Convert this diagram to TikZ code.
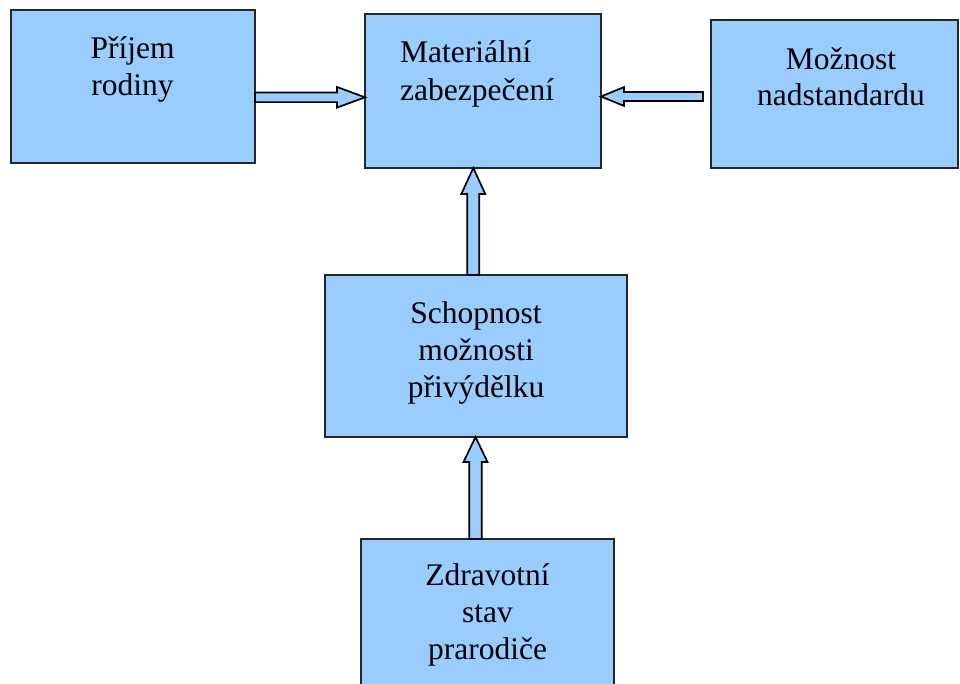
\documentclass[tikz,border=0pt]{standalone}
\usepackage{fontspec}
\setmainfont{Liberation Serif}
\newfontfamily\lblfont{Liberation Serif}
\usetikzlibrary{calc}
\definecolor{boxblue}{HTML}{99CCFF}
\definecolor{boxline}{HTML}{262626}
\tikzset{
  box/.style={draw=boxline, line width=1.2pt, fill=boxblue, rectangle, inner sep=0pt, outer sep=0pt},
  lbl/.style={inner sep=0pt, font=\lblfont\fontsize{31.5}{37}\selectfont, text=black},
  blockarr/.style={draw=black, line width=1.7pt, fill=boxblue, line join=miter},
}
\newcommand\blockarrow[5]{% start, tip, shaft half, head half, head length
  \coordinate (hb) at ($(#2)!#5!(#1)$);
  \draw[blockarr] ($(#1)!#3!90:(#2)$) -- ($(hb)!#3!90:(#2)$) -- ($(hb)!#4!90:(#2)$) -- (#2)
     -- ($(hb)!#4!-90:(#2)$) -- ($(hb)!#3!-90:(#2)$) -- ($(#1)!#3!-90:(#2)$) -- cycle;
}
\begin{document}
\begin{tikzpicture}[x=1pt,y=-1pt]
\useasboundingbox (0,0) rectangle (960,683);
\clip (0,0) rectangle (960,683);
\fill[white] (0,0) rectangle (960,683);

% boxes
\node[box, minimum width=244pt, minimum height=153pt] (rod) at (133,86.5) {};
\node[box, minimum width=236pt, minimum height=154pt] (mat) at (483,91) {};
\node[box, minimum width=247pt, minimum height=148pt] (moz) at (834.5,94) {};
\node[box, minimum width=302pt, minimum height=162pt] (sch) at (476,356) {};
\node[box, minimum width=253pt, minimum height=160pt] (zdr) at (487.5,619) {};

% labels
\node[lbl, anchor=base] (rod1) at (132.5,58) {Příjem};
\node[lbl, anchor=base] (rod2) at (132.5,95) {rodiny};
\node[lbl, anchor=base west] (mat1) at (400,62) {Materiální};
\node[lbl, anchor=base west] (mat2) at (400,100) {zabezpečení};
\node[lbl, anchor=base] (moz1) at (841,69) {Možnost};
\node[lbl, anchor=base] (moz2) at (841,105.5) {nadstandardu};
\node[lbl, anchor=base] (sch1) at (476,323) {Schopnost};
\node[lbl, anchor=base] (sch2) at (476,360) {možnosti};
\node[lbl, anchor=base] (sch3) at (476,397) {přivýdělku};
\node[lbl, anchor=base] (zdr1) at (487.5,585) {Zdravotní};
\node[lbl, anchor=base] (zdr2) at (487.5,622) {stav};
\node[lbl, anchor=base] (zdr3) at (487.5,659) {prarodiče};

% connectors
\coordinate (a1s) at (rod.east |- 0,97.3);
\coordinate (a1t) at (mat.west |- 0,97.3);
\blockarrow{a1s}{a1t}{4.8pt}{10.3pt}{28pt}

\coordinate (a2s) at (703,96.5);
\coordinate (a2t) at (mat.east |- 0,96.5);
\blockarrow{a2s}{a2t}{4.5pt}{9.4pt}{23pt}

\coordinate (a3s) at (473.3,0 |- sch.north);
\coordinate (a3t) at (473.3,0 |- mat.south);
\blockarrow{a3s}{a3t}{6pt}{12pt}{26pt}

\coordinate (a4s) at (475.5,0 |- zdr.north);
\coordinate (a4t) at (475.5,0 |- sch.south);
\blockarrow{a4s}{a4t}{6.2pt}{12pt}{25pt}
\end{tikzpicture}
\end{document}
